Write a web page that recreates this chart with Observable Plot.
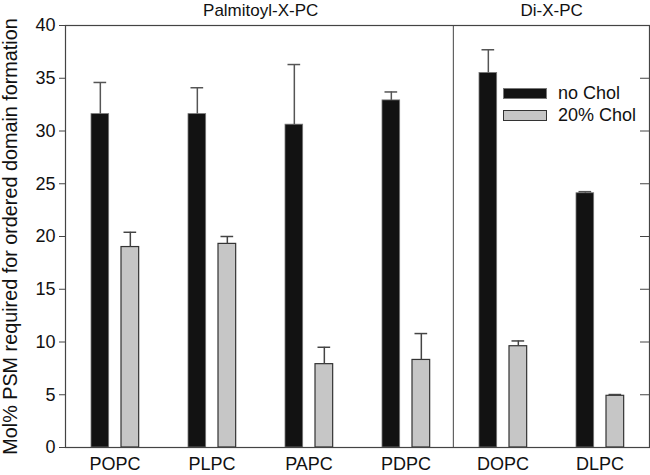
<!DOCTYPE html>
<html>
<head>
<meta charset="utf-8">
<script src="https://cdn.jsdelivr.net/npm/d3@7"></script>
<script src="https://cdn.jsdelivr.net/npm/@observablehq/plot@0.6"></script>
<style>
  html, body { margin: 0; padding: 0; background: #fff; }
  #wrap { position: relative; width: 650px; height: 475px; font-family: "Liberation Sans", Arial, sans-serif; }
  .legend { position: absolute; left: 503px; top: 82px; font-size: 18px; color: #111; line-height: 22px; }
  .legend .row { display: flex; align-items: center; height: 22px; }
  .legend .sw { width: 44px; height: 11px; margin-right: 11px; box-sizing: border-box; }
</style>
</head>
<body>
<div id="wrap"></div>
<script>
const categories = ["POPC", "PLPC", "PAPC", "PDPC", "DOPC", "DLPC"];
const noChol     = [31.6, 31.6, 30.6, 32.9, 35.5, 24.1];
const noCholErr  = [3.0, 2.5, 5.7, 0.8, 2.2, 0.15];
const chol20     = [19.0, 19.3, 7.9, 8.3, 9.6, 4.9];
const chol20Err  = [1.4, 0.7, 1.6, 2.5, 0.5, 0.12];
const yTicks = [0, 5, 10, 15, 20, 25, 30, 35, 40];
const groupTitles = [
  {label: "Palmitoyl-X-PC", after: "PLPC"},
  {label: "Di-X-PC", after: "DOPC"}
];
const seriesNames = ["no Chol", "20% Chol"];
const yLabel = "Mol% PSM required for ordered domain formation";

const rows0 = categories.map((c, i) => ({cat: c, v: noChol[i], top: noChol[i] + noCholErr[i]}));
const rows1 = categories.map((c, i) => ({cat: c, v: chol20[i], top: chol20[i] + chol20Err[i]}));

const W = 650, H = 475, ML = 65, MR = 1, MT = 25, MB = 28;
const step = (W - ML - MR) / categories.length;
const half = step / 2;
const font = "Liberation Sans, Arial, sans-serif";
const axisColor = "#444";

const chart = Plot.plot({
  width: W, height: H,
  marginLeft: ML, marginRight: MR, marginTop: MT, marginBottom: MB,
  style: {fontFamily: font, color: "#111", background: "#fff"},
  x: {domain: categories, padding: 0, label: null},
  y: {domain: [0, 40], label: null},
  marks: [
    // bars
    Plot.barY(rows0, {x: "cat", y: "v", fill: "#121212", stroke: "#777", strokeWidth: 0.8, insetLeft: 25, insetRight: step - 43}),
    Plot.barY(rows1, {x: "cat", y: "v", fill: "#c6c6c6", stroke: "#333", strokeWidth: 1.2, insetLeft: 55, insetRight: step - 73}),
    // error bars
    Plot.ruleX(rows0, {x: "cat", y1: "v", y2: "top", dx: 34 - half, stroke: "#555", strokeWidth: 1.5}),
    Plot.tickY(rows0, {x: "cat", y: "top", insetLeft: 27.5, insetRight: step - 40.5, stroke: "#555", strokeWidth: 1.5}),
    Plot.ruleX(rows1, {x: "cat", y1: "v", y2: "top", dx: 64 - half, stroke: "#444", strokeWidth: 1.5}),
    Plot.tickY(rows1, {x: "cat", y: "top", insetLeft: 57.5, insetRight: step - 70.5, stroke: "#444", strokeWidth: 1.5}),
    // divider between groups
    Plot.ruleX(["DOPC"], {x: d => d, dx: -half - 1, stroke: axisColor, strokeWidth: 1}),
    // frame and axes
    Plot.frame({stroke: axisColor, strokeWidth: 1.2}),
    Plot.axisY({ticks: yTicks, tickSize: 6, tickPadding: 4, fontSize: 18, stroke: axisColor, label: null}),
    Plot.tickY(yTicks, {y: d => d, insetLeft: (W - ML - MR) - 9, stroke: axisColor, strokeWidth: 1}),
    Plot.axisX({tickSize: 0, tickPadding: 10, fontSize: 18, label: null}),
    // y label
    Plot.text([yLabel], {text: d => d, frameAnchor: "left", textAnchor: "middle", rotate: -90, dx: -55, fontSize: 19.8, fill: "#111"}),
    // group titles
    Plot.text(groupTitles, {x: "after", text: "label", dx: half, frameAnchor: "top", lineAnchor: "bottom", dy: -10, fontSize: 17, fill: "#111"})
  ]
});

const wrap = document.getElementById("wrap");
wrap.appendChild(chart);

const legend = document.createElement("div");
legend.className = "legend";
const swatchStyles = [
  "background:#121212;border:1px solid #777;",
  "background:#c6c6c6;border:1.2px solid #333;"
];
seriesNames.forEach((name, i) => {
  const row = document.createElement("div");
  row.className = "row";
  const sw = document.createElement("div");
  sw.className = "sw";
  sw.style.cssText = swatchStyles[i];
  const t = document.createElement("span");
  t.textContent = name;
  row.appendChild(sw);
  row.appendChild(t);
  legend.appendChild(row);
});
wrap.appendChild(legend);
</script>
</body>
</html>
